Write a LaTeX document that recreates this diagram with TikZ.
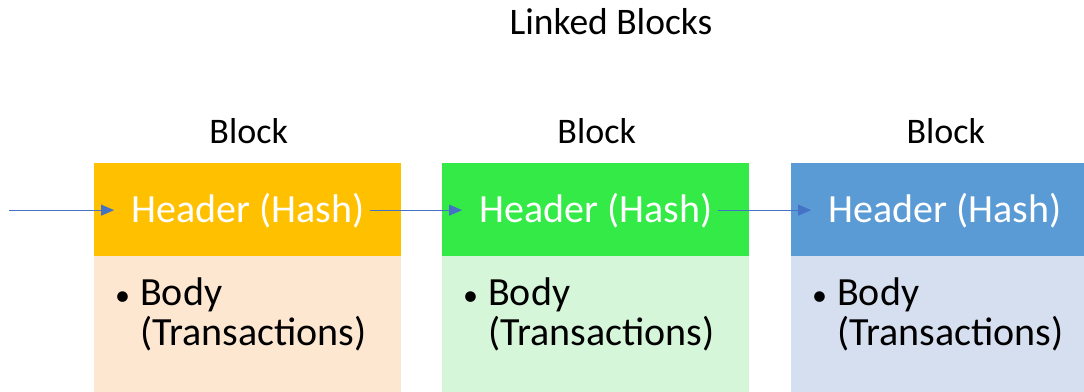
\documentclass[tikz,border=0pt]{standalone}
\usepackage{fontspec}
\setmainfont{Carlito}
\usetikzlibrary{arrows.meta,positioning,calc}
\definecolor{cHa}{HTML}{FFC000}
\definecolor{cBa}{HTML}{FDE7D1}
\definecolor{cHb}{HTML}{33EA47}
\definecolor{cBb}{HTML}{D5F6D8}
\definecolor{cHc}{HTML}{5B9BD5}
\definecolor{cBc}{HTML}{D6DFF0}
\definecolor{cLink}{HTML}{4472C4}
\tikzset{
  hdr/.style={minimum width=307pt,minimum height=93pt,inner sep=0pt,anchor=north west},
  bdy/.style={minimum width=307pt,minimum height=140pt,inner sep=0pt,anchor=north west},
  lbl/.style={font=\fontsize{36}{40}\selectfont,anchor=base,inner sep=0pt},
  big/.style={font=\fontsize{40}{40}\selectfont},
  link/.style={draw=cLink,line width=0.8pt,shorten >=11pt,-{Triangle[length=13pt,width=11pt]}}
}
\newcommand{\blt}{\makebox[25pt][l]{\fontsize{30}{30}\selectfont\textbullet}}
\begin{document}
\begin{tikzpicture}[x=1pt,y=-1pt]
  \useasboundingbox (0,0) rectangle (1084,391);
  \clip (0,0) rectangle (1084,391);
  \node[lbl,font=\fontsize{37.5}{40}\selectfont] (title) at (611,34) {Linked Blocks};
  \foreach \i/\x/\c in {1/94/a,2/442/b,3/791/c}{
     \node[hdr,fill=cH\c] (h\i) at (\x,163){};
     \node[bdy,fill=cB\c] (b\i) at (\x,256){};
     \node[lbl] (l\i) at ($(h\i.north)+(1,-20)$) {Block};
     \node[big,white,anchor=base,inner xsep=6pt] (t\i) at ($(h\i.north)+(0,59)$) {Header (Hash)};
     \node[big,align=left,anchor=base west,inner sep=0pt] (x\i) at ($(b\i.north west)+(21,89)$)
        {\blt Body\\\hspace*{25pt}(Transactions)};
  }
  \coordinate (in) at (9,0 |- t1.west);
  \draw[link] (in) -- (t1.west);
  \draw[link] (t1.east) -- (t2.west);
  \draw[link] (t2.east) -- (t3.west);
\end{tikzpicture}
\end{document}
